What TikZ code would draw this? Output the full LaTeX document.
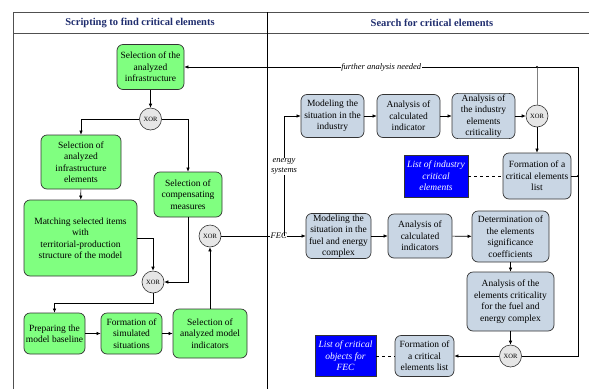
\documentclass[tikz,border=0pt]{standalone}
\usepackage{fontspec}
\setmainfont{Liberation Serif}
\usetikzlibrary{arrows.meta}

\definecolor{boxgreen}{RGB}{128,255,128}
\definecolor{boxblue}{RGB}{201,214,228}
\definecolor{xorgray}{RGB}{230,230,230}
\definecolor{headblue}{RGB}{31,45,110}
\definecolor{framegray}{RGB}{80,80,80}

\tikzset{
  greenbox/.style={draw=black!80, line width=0.7pt, fill=boxgreen, rounded corners=6pt, align=center, inner sep=1pt, font=\fontsize{9.5}{11.5}\selectfont},
  bluebox/.style={greenbox, fill=boxblue},
  listbox/.style={draw=black!80, fill=blue, text=white, align=center, inner sep=1pt, font=\fontsize{9.5}{11.5}\itshape},
  xor/.style={circle, draw=black!80, line width=0.6pt, fill=xorgray, minimum size=22pt, inner sep=0pt, font=\fontsize{6.5}{7}\selectfont},
  flowlabel/.style={fill=white, inner sep=0.5pt, align=center, font=\fontsize{8.5}{10}\itshape},
  >={Latex[length=4pt,width=3.5pt]}
}

\begin{document}
\begin{tikzpicture}[x=1pt, y=-1pt, line width=0.6pt]
\useasboundingbox (0,0) rectangle (589,389);

% frame
\draw[framegray, line width=0.8pt] (13,389) -- (13,12) -- (589,12);
\draw[framegray, line width=1pt] (13,33) -- (589,33);
\draw[black, line width=0.8pt] (267,12) -- (267,389);
\node[text=headblue, font=\fontsize{10.5}{12}\bfseries] (headl) at (140,23) {Scripting to find critical elements};
\node[text=headblue, font=\fontsize{10.5}{12}\bfseries] (headr) at (432,23) {Search for critical elements};

% left side
\node[greenbox, minimum width=67pt, minimum height=45pt] (selinfra) at (150.5,67) {Selection of the\\analyzed\\infrastructure};
\node[xor] (xa) at (150.5,119) {XOR};
\node[greenbox, minimum width=80pt, minimum height=54pt] (selelem) at (81,162) {Selection of\\analyzed\\infrastructure\\elements};
\node[greenbox, minimum width=68pt, minimum height=45pt] (selcomp) at (188,194.5) {Selection of\\compensating\\measures};
\node[greenbox, minimum width=113pt, minimum height=76pt] (matching) at (80.5,238) {Matching selected items\\with\\territorial-production\\structure of the model};
\node[xor] (xb) at (153,282) {XOR};
\node[xor] (xc) at (210,236) {XOR};
\node[greenbox, minimum width=61pt, minimum height=41pt] (prep) at (54.5,333.5) {Preparing the\\model baseline};
\node[greenbox, minimum width=61pt, minimum height=41pt] (formsim) at (131.5,333.5) {Formation of\\simulated\\situations};
\node[greenbox, minimum width=74pt, minimum height=49pt] (selind) at (210,333.5) {Selection of\\analyzed model\\indicators};

\draw[->] (selinfra) -- (xa);
\draw[->] (xa) -| (selelem);
\draw[->] (xa) -| (selcomp);
\draw[->] (selelem) -- (matching);
\draw[->] (matching) -| (xb);
\draw[->] (selcomp) |- (xb);
\coordinate (bend) at (153,303);
\draw[->] (xb) -- (bend) -| (prep);
\draw[->] (prep) -- (formsim);
\draw[->] (formsim) -- (selind);
\draw[->] (selind) -- (xc);

% right side
\node[bluebox, minimum width=63pt, minimum height=43pt] (modind) at (332.5,116) {Modeling the\\situation in the\\industry};
\node[bluebox, minimum width=63pt, minimum height=43pt] (anind) at (408.5,116) {Analysis of\\calculated\\indicator};
\node[bluebox, minimum width=63pt, minimum height=43pt] (ancrit) at (483.5,116) {Analysis of\\the industry\\elements\\criticality};
\node[xor] (xd) at (537,116) {XOR};
\node[bluebox, minimum width=68pt, minimum height=46pt] (formind) at (537,176) {Formation of a\\critical elements\\list};
\node[listbox, minimum width=64pt, minimum height=42pt] (listind) at (436,176) {List of industry\\critical\\elements};

\node[bluebox, minimum width=65pt, minimum height=45pt] (modfec) at (338.5,236) {Modeling the\\situation in the\\fuel and energy\\complex};
\node[bluebox, minimum width=64pt, minimum height=44pt] (anfec) at (420,236) {Analysis of\\calculated\\indicators};
\node[bluebox, minimum width=77pt, minimum height=51pt] (detcoef) at (510.5,236.5) {Determination of\\the elements\\significance\\coefficients};
\node[bluebox, minimum width=87pt, minimum height=59pt] (ancritfec) at (510.5,301.5) {Analysis of the\\elements criticality\\for the fuel and\\energy complex};
\node[xor] (xe) at (510.5,356) {XOR};
\node[bluebox, minimum width=59pt, minimum height=41pt] (formfec) at (424.5,356) {Formation of\\a critical\\elements list};
\node[listbox, minimum width=61pt, minimum height=41pt] (listfec) at (345.5,356) {List of critical\\objects for\\FEC};

\coordinate (split) at (284,236);
\coordinate (cornertop) at (578,67);
\coordinate (cornerbot) at (578,356);

\draw[->] (xc) -- (modfec) node[flowlabel, pos=0.68] {FEC};
\draw[->] (split) |- (modind) node[flowlabel, pos=0.29] {energy\\systems};
\draw[->] (modind) -- (anind);
\draw[->] (anind) -- (ancrit);
\draw[->] (ancrit) -- (xd);
\draw[->] (xd) -- (formind);
\draw[dashed] (listind) -- (formind);

\draw[->] (modfec) -- (anfec);
\draw[->] (anfec) -- (detcoef);
\draw[->] (detcoef) -- (ancritfec);
\draw[->] (ancritfec) -- (xe);
\draw[->] (xe) -- (formfec);
\draw[dashed] (listfec) -- (formfec);

% feedback
\draw[->] (xe) -- (cornerbot) -- (cornertop) -- (selinfra) node[flowlabel, pos=0.5] {further analysis needed};
\draw[gray, line width=0.9pt] (xd) -- (xd |- cornertop);
\fill (xd |- cornertop) circle (1.2pt);
\draw (formind) -- (formind -| cornertop);
\fill (formind -| cornertop) circle (1.2pt);

\end{tikzpicture}
\end{document}
